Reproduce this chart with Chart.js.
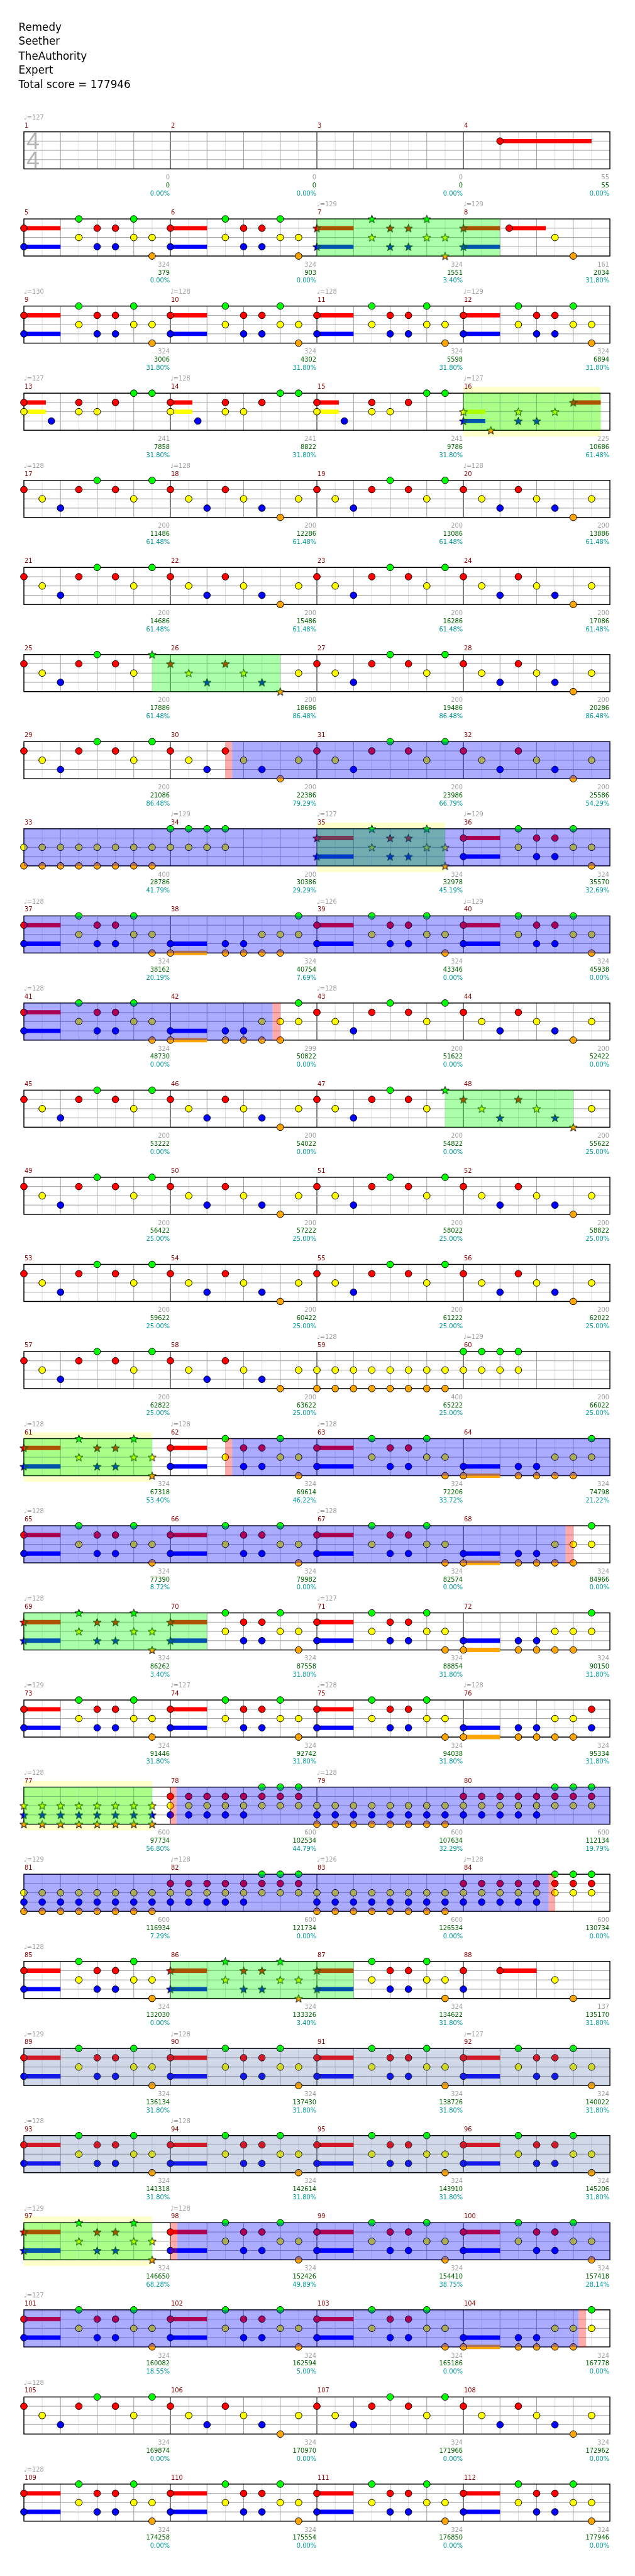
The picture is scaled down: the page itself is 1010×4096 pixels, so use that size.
<!DOCTYPE html>
<html>
<head>
<meta charset="utf-8">
<title>Remedy - Seether</title>
<script src="https://cdn.jsdelivr.net/npm/chart.js@4.4.1/dist/chart.umd.min.js"></script>
<style>
  html, body { margin: 0; padding: 0; background: #fff; }
  canvas { display: block; }
</style>
</head>
<body>
<canvas id="chart" width="1010" height="4096"></canvas>
<script>
// ---- song data -------------------------------------------------------------
const titleLines = ['Remedy', 'Seether', 'TheAuthority', 'Expert', 'Total score = 177946'];

// notes per pattern: [position in eighths, lanes (G R Y B O), sustain in eighths]
const patEmpty = [];
const patIntro = [[2, 'R', 5]];
const patA = [[0, 'RB', 2], [3, 'GY'], [4, 'RB'], [5, 'RB'], [6, 'GY'], [7, 'YO']];
const patA8 = [[0, 'RB', 2], [2.5, 'R', 2], [5, 'Y'], [6, 'O']];
const patA88 = [[0, 'RB'], [2, 'R', 2], [5, 'Y'], [6, 'O']];
const patB = [[0, 'RY', 1.2], [1.5, 'B'], [3, 'RY'], [4, 'Y'], [5, 'R'], [6, 'G'], [7, 'G']];
const patB16 = [[0, 'YB', 1.2], [1.5, 'O'], [3, 'YB'], [4, 'B'], [5, 'Y'], [6, 'R', 1.5]];
const patC1 = [[0, 'R'], [1, 'Y'], [2, 'B'], [3, 'R'], [4, 'G'], [5, 'R'], [6, 'Y'], [7, 'G']];
const patC2 = [[0, 'R'], [1, 'Y'], [2, 'B'], [3, 'R'], [4, 'Y'], [5, 'B'], [6, 'O'], [7, 'Y']];
const patD = [[0, 'BO', 2], [3, 'BO'], [4, 'BO'], [5, 'YO'], [6, 'YO'], [7, 'GY']];
const patD2 = [[0, 'BO', 2], [3, 'BO'], [4, 'BO'], [5, 'YO'], [6, 'YO'], [7, 'RB']];
const patE = [[0, 'YO'], [1, 'YO'], [2, 'YO'], [3, 'YO'], [4, 'YO'], [5, 'YO'], [6, 'YO'], [7, 'YO']];
const patF = [[0, 'GY'], [1, 'GY'], [2, 'GY'], [3, 'GY']];
const patH = [[0, 'YBO'], [1, 'YBO'], [2, 'YBO'], [3, 'YBO'], [4, 'YBO'], [5, 'YBO'], [6, 'YBO'], [7, 'YBO']];
const patI = [[0, 'RYB'], [1, 'RYB'], [2, 'RYB'], [3, 'RYB'], [4, 'RYB'], [5, 'GRY'], [6, 'GRY'], [7, 'GRY']];

// which pattern each measure (1..112) uses
const measureKeys = (
  '---i' + 'AAAa' + 'AAAA' + 'BBBb' +
  '1212' + '1212' + '1212' + '1212' +
  'EFAA' + 'ADAA' + 'AD12' + '1212' +
  '1212' + '1212' + '12EF' + 'AAAD' +
  'AAAD' + 'AAAD' + 'AAAd' + 'HIHI' +
  'HIHI' + 'AAAe' + 'AAAA' + 'AAAA' +
  'AAAA' + 'AAAD' + '1212' + 'AAAA'
).split('');

// numbers printed under each measure
const measureNotes = [
  0, 0, 0, 55, 324, 324, 324, 161, 324, 324, 324, 324, 241, 241, 241, 225,
  200, 200, 200, 200, 200, 200, 200, 200, 200, 200, 200, 200, 200, 200, 200, 200,
  400, 200, 324, 324, 324, 324, 324, 324, 324, 299, 200, 200, 200, 200, 200, 200,
  200, 200, 200, 200, 200, 200, 200, 200, 200, 200, 400, 200, 324, 324, 324, 324,
  324, 324, 324, 324, 324, 324, 324, 324, 324, 324, 324, 324, 600, 600, 600, 600,
  600, 600, 600, 600, 324, 324, 324, 137, 324, 324, 324, 324, 324, 324, 324, 324,
  324, 324, 324, 324, 324, 324, 324, 324, 324, 324, 324, 324, 324, 324, 324, 324
];
const runningScore = [
  0, 0, 0, 55, 379, 903, 1551, 2034, 3006, 4302, 5598, 6894, 7858, 8822, 9786, 10686,
  11486, 12286, 13086, 13886, 14686, 15486, 16286, 17086, 17886, 18686, 19486, 20286, 21086, 22386, 23986, 25586,
  28786, 30386, 32978, 35570, 38162, 40754, 43346, 45938, 48730, 50822, 51622, 52422, 53222, 54022, 54822, 55622,
  56422, 57222, 58022, 58822, 59622, 60422, 61222, 62022, 62822, 63622, 65222, 66022, 67318, 69614, 72206, 74798,
  77390, 79982, 82574, 84966, 86262, 87558, 88854, 90150, 91446, 92742, 94038, 95334, 97734, 102534, 107634, 112134,
  116934, 121734, 126534, 130734, 132030, 133326, 134622, 135170, 136134, 137430, 138726, 140022, 141318, 142614, 143910, 145206,
  146650, 152426, 154410, 157418, 160082, 162594, 165186, 167778, 169874, 170970, 171966, 172962, 174258, 175554, 176850, 177946
];
const multiplierPct = [
  0, 0, 0, 0, 0, 0, 3.40, 31.80, 31.80, 31.80, 31.80, 31.80, 31.80, 31.80, 31.80, 61.48,
  61.48, 61.48, 61.48, 61.48, 61.48, 61.48, 61.48, 61.48, 61.48, 86.48, 86.48, 86.48, 86.48, 79.29, 66.79, 54.29,
  41.79, 29.29, 45.19, 32.69, 20.19, 7.69, 0, 0, 0, 0, 0, 0, 0, 0, 0, 25.00,
  25.00, 25.00, 25.00, 25.00, 25.00, 25.00, 25.00, 25.00, 25.00, 25.00, 25.00, 25.00, 53.40, 46.22, 33.72, 21.22,
  8.72, 0, 0, 0, 3.40, 31.80, 31.80, 31.80, 31.80, 31.80, 31.80, 31.80, 56.80, 44.79, 32.29, 19.79,
  7.29, 0, 0, 0, 0, 3.40, 31.80, 31.80, 31.80, 31.80, 31.80, 31.80, 31.80, 31.80, 31.80, 31.80,
  68.28, 49.89, 38.75, 28.14, 18.55, 5.00, 0, 0, 0, 0, 0, 0, 0, 0, 0, 0
];

// tempo marks
const tempoMeasures = [1, 7, 8, 9, 10, 11, 12, 13, 14, 16, 17, 18, 20, 34, 35, 36, 37, 39, 40, 41, 43,
  59, 60, 61, 62, 63, 65, 67, 69, 71, 73, 74, 75, 76, 77, 79, 81, 82, 83, 84, 85,
  89, 90, 92, 93, 94, 97, 98, 101, 105, 109];
const tempoValues = [127, 129, 129, 130, 128, 128, 129, 127, 128, 127, 128, 128, 128, 129, 127, 129, 128, 126, 129, 128, 128,
  128, 129, 128, 128, 128, 128, 128, 128, 127, 129, 127, 128, 128, 128, 128, 129, 128, 126, 128, 128,
  129, 128, 127, 128, 128, 129, 128, 127, 128, 128];

// sections, in eighths from the start of the song
const starStart = [48, 120, 199, 272, 375, 480, 544, 608, 680, 768];
const starEnd = [58, 127.5, 206, 279, 382, 487, 554, 615, 690, 775];
const bandStart = [120, 272, 480, 608, 768];
const bandEnd = [127.5, 279, 487, 615, 775];
const soloStart = [235.37, 491.37, 616.33, 776.37];
const soloEnd = [333.58, 541.58, 668.66, 830.3];
const edgeStart = [235, 333.58, 491, 541.58, 616, 668.66, 776, 830.3];
const edgeEnd = [235.37, 334, 491.37, 542, 616.33, 669, 776.37, 830.7];
const calmStart = [704];
const calmEnd = [768];

// ---- layout ------------------------------------------------------------------
const S = 0.986;
const ROWS = 28;
const ROW_EIGHTHS = 32;
const ROW_PITCH = 9.4;      // in lane units
const LANES = 'GRYBO';
const laneColors = ['#00ff00', '#ff0000', '#ffff00', '#0000ff', '#ffa500'];

const patternByKey = {
  '-': patEmpty, 'i': patIntro, 'A': patA, 'a': patA8, 'e': patA88, 'B': patB, 'b': patB16,
  '1': patC1, '2': patC2, 'D': patD, 'd': patD2, 'E': patE, 'F': patF, 'H': patH, 'I': patI
};

function inStar(p) {
  return starStart.some((s, i) => p >= s - 0.01 && p <= starEnd[i] + 0.01);
}

function makeStar(color) {
  const size = Math.ceil(17 * S);
  const c = document.createElement('canvas');
  c.width = size;
  c.height = size;
  const g = c.getContext('2d');
  const R = 6.8 * S, r = 2.8 * S;
  g.beginPath();
  for (let i = 0; i < 10; i++) {
    const ang = -Math.PI / 2 + i * Math.PI / 5;
    const rad = i % 2 ? r : R;
    g.lineTo(size / 2 + rad * Math.cos(ang), size / 2 + 0.6 + rad * Math.sin(ang));
  }
  g.closePath();
  g.fillStyle = color;
  g.fill();
  g.strokeStyle = '#000';
  g.lineWidth = 1;
  g.stroke();
  return c;
}

const noteData = LANES.split('').map(() => []);
const starData = LANES.split('').map(() => []);
const holdData = LANES.split('').map(() => []);

measureKeys.forEach((key, mi) => {
  patternByKey[key].forEach(([pos, lanes, hold]) => {
    const abs = mi * 8 + pos;
    const row = Math.floor(abs / ROW_EIGHTHS);
    const x = abs - row * ROW_EIGHTHS;
    lanes.split('').forEach(ch => {
      const li = LANES.indexOf(ch);
      const y = row * ROW_PITCH + li;
      (inStar(abs) ? starData : noteData)[li].push({ x, y });
      if (hold) {
        holdData[li].push({ x, y }, { x: x + hold, y }, { x: x + hold, y: null });
      }
    });
  });
});

const datasets = [];
LANES.split('').forEach((ch, li) => {
  datasets.push({
    data: holdData[li],
    showLine: true,
    spanGaps: false,
    borderColor: laneColors[li],
    borderWidth: 7 * S,
    borderCapStyle: 'butt',
    pointRadius: 0,
    order: 3
  });
});
LANES.split('').forEach((ch, li) => {
  datasets.push({
    data: noteData[li],
    pointStyle: 'circle',
    pointRadius: 5.4 * S,
    backgroundColor: laneColors[li],
    borderColor: '#000',
    borderWidth: 1,
    order: 1
  });
  datasets.push({
    data: starData[li],
    pointStyle: makeStar(laneColors[li]),
    pointRadius: 7 * S,
    order: 1
  });
});

// split a span of eighths into per-row pieces
function rowPieces(starts, ends) {
  const out = [];
  starts.forEach((a, i) => {
    const b = ends[i];
    for (let r = Math.floor(a / ROW_EIGHTHS); r * ROW_EIGHTHS < b; r++) {
      const x0 = Math.max(a, r * ROW_EIGHTHS) - r * ROW_EIGHTHS;
      const x1 = Math.min(b, (r + 1) * ROW_EIGHTHS) - r * ROW_EIGHTHS;
      if (x1 > x0) out.push({ row: r, x0, x1 });
    }
  });
  return out;
}

function fillPieces(chart, starts, ends, color, extra) {
  const ctx = chart.ctx, xs = chart.scales.x, ys = chart.scales.y;
  ctx.fillStyle = color;
  rowPieces(starts, ends).forEach(p => {
    const x0 = xs.getPixelForValue(p.x0), x1 = xs.getPixelForValue(p.x1);
    const t = ys.getPixelForValue(p.row * ROW_PITCH) - extra;
    const b = ys.getPixelForValue(p.row * ROW_PITCH + 4) + extra;
    ctx.fillRect(x0, t, x1 - x0, b - t);
  });
}

const staffPlugin = {
  id: 'staff',
  beforeDatasetsDraw(chart) {
    const ctx = chart.ctx, xs = chart.scales.x, ys = chart.scales.y;
    ctx.save();
    fillPieces(chart, bandStart, bandEnd, 'rgba(255,255,0,0.2)', 10 * S);

    for (let r = 0; r < ROWS; r++) {
      const top = ys.getPixelForValue(r * ROW_PITCH);
      const bottom = ys.getPixelForValue(r * ROW_PITCH + 4);
      const left = xs.getPixelForValue(0);
      const right = xs.getPixelForValue(ROW_EIGHTHS);
      ctx.lineWidth = 1;
      for (let k = 1; k < ROW_EIGHTHS; k++) {
        const x = xs.getPixelForValue(k);
        ctx.strokeStyle = k % 8 === 0 ? '#000' : (k % 2 ? '#dcdcdc' : '#a0a0a0');
        ctx.beginPath();
        ctx.moveTo(x, top);
        ctx.lineTo(x, bottom);
        ctx.stroke();
      }
      ctx.strokeStyle = '#a0a0a0';
      for (let l = 1; l < 4; l++) {
        const y = ys.getPixelForValue(r * ROW_PITCH + l);
        ctx.beginPath();
        ctx.moveTo(left, y);
        ctx.lineTo(right, y);
        ctx.stroke();
      }
      ctx.strokeStyle = '#000';
      ctx.lineWidth = 1.5 * S;
      ctx.strokeRect(left, top, right - left, bottom - top);
    }

    // time signature on the first row
    const t0 = ys.getPixelForValue(0);
    ctx.fillStyle = '#b4b4b4';
    ctx.font = (38 * S) + 'px "Liberation Sans", Arial, sans-serif';
    ctx.textAlign = 'left';
    ctx.textBaseline = 'alphabetic';
    ctx.fillText('4', xs.getPixelForValue(0) + 4 * S, t0 + 28 * S);
    ctx.fillText('4', xs.getPixelForValue(0) + 4 * S, t0 + 58 * S);
    ctx.restore();
  },
  afterDatasetsDraw(chart) {
    const ctx = chart.ctx, xs = chart.scales.x, ys = chart.scales.y;
    ctx.save();
    fillPieces(chart, calmStart, calmEnd, 'rgba(70,100,160,0.25)', 0);
    fillPieces(chart, starStart, starEnd, 'rgba(0,255,0,0.33)', 0);
    fillPieces(chart, soloStart, soloEnd, 'rgba(0,0,255,0.33)', 0);
    fillPieces(chart, edgeStart, edgeEnd, 'rgba(255,0,0,0.33)', 0);

    // title block
    ctx.fillStyle = '#000';
    ctx.font = (17 * S) + 'px "DejaVu Sans", sans-serif';
    ctx.textAlign = 'left';
    ctx.textBaseline = 'alphabetic';
    const titleBase = [49.5, 72.5, 96, 118.5, 141.5];
    titleLines.forEach((t, i) => ctx.fillText(t, 30 * S, titleBase[i] * S));

    ctx.font = (10 * S) + 'px "DejaVu Sans", sans-serif';
    for (let mi = 0; mi < measureKeys.length; mi++) {
      const row = Math.floor(mi / 4);
      const x0 = xs.getPixelForValue((mi % 4) * 8);
      const x1 = xs.getPixelForValue((mi % 4) * 8 + 8);
      const top = ys.getPixelForValue(row * ROW_PITCH);
      const bottom = ys.getPixelForValue(row * ROW_PITCH + 4);

      ctx.textAlign = 'left';
      ctx.fillStyle = '#8b0000';
      ctx.fillText(String(mi + 1), x0 + 1 * S, top - 7 * S);

      ctx.textAlign = 'right';
      ctx.fillStyle = '#a0a0a0';
      ctx.fillText(String(measureNotes[mi]), x1 - 1 * S, bottom + 17 * S);
      ctx.fillStyle = '#006400';
      ctx.fillText(String(runningScore[mi]), x1 - 1 * S, bottom + 30 * S);
      ctx.fillStyle = '#009999';
      ctx.fillText(multiplierPct[mi].toFixed(2) + '%', x1 - 1 * S, bottom + 43 * S);
    }

    ctx.textAlign = 'left';
    ctx.fillStyle = '#a0a0a0';
    tempoMeasures.forEach((m, i) => {
      const mi = m - 1;
      const row = Math.floor(mi / 4);
      const x0 = xs.getPixelForValue((mi % 4) * 8);
      const top = ys.getPixelForValue(row * ROW_PITCH);
      ctx.fillText('\u2669=' + tempoValues[i], x0, top - 20 * S);
    });
    ctx.restore();
  }
};

const yTop = -205.3 / 15;
new Chart(document.getElementById('chart'), {
  type: 'scatter',
  data: { datasets },
  options: {
    responsive: false,
    animation: false,
    devicePixelRatio: 1,
    events: [],
    layout: { padding: 0 },
    plugins: {
      legend: { display: false },
      tooltip: { enabled: false }
    },
    scales: {
      x: { type: 'linear', display: false, min: -31 / 30, max: (1024 - 31) / 30 },
      y: { type: 'linear', display: false, reverse: true, min: yTop, max: yTop + 4153 / 15 }
    }
  },
  plugins: [staffPlugin]
});
</script>
</body>
</html>
